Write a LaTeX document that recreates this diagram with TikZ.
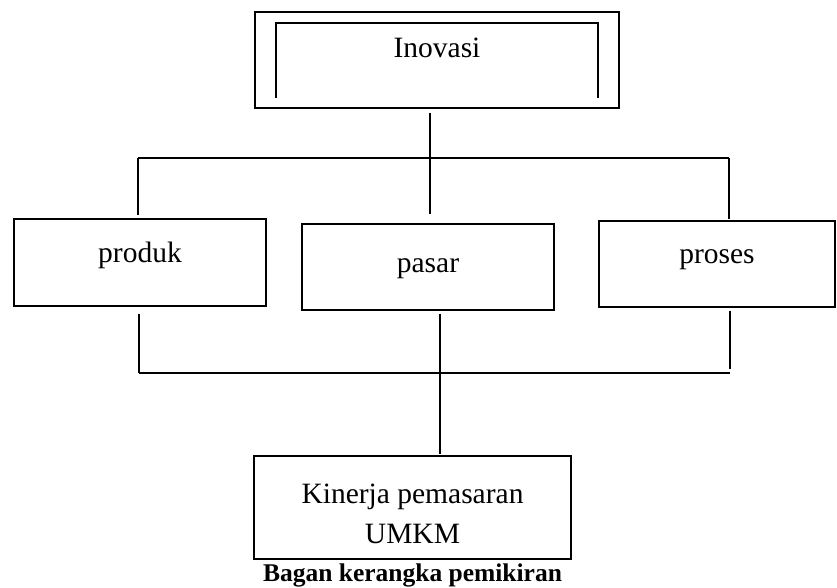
\documentclass[tikz,border=0pt]{standalone}
\usepackage{fontspec}
\setmainfont{Liberation Serif}
\begin{document}
\begin{tikzpicture}[x=1pt,y=-1pt,
  box/.style={draw,line width=1.3pt,inner sep=0pt,minimum width=#1},
  txt/.style={anchor=base,inner sep=0pt,font=\fontsize{29.5}{36}\selectfont},
  conn/.style={line width=1.2pt}]
\useasboundingbox (0,0) rectangle (837,588);
% Inovasi
\node[box=364pt,minimum height=96pt] (inov) at (437,60) {};
\draw[line width=1.3pt] (276,98) -- (276,23) -- (598,23) -- (598,98);
\node[txt] (tinov) at (437,58) {Inovasi};
% middle boxes
\node[box=252pt,minimum height=87pt] (produk) at (140,262.5) {};
\node[txt] (tprod) at (140,262) {produk};
\node[box=252pt,minimum height=86pt] (pasar) at (428,267) {};
\node[txt] (tpas) at (428,272) {pasar};
\node[box=236pt,minimum height=86pt] (proses) at (717,264) {};
\node[txt] (tpro) at (717,263) {proses};
% bottom box
\node[box=317pt,minimum height=103pt] (kin) at (412.5,507.5) {};
\node[txt] (tkin1) at (412.5,503) {Kinerja pemasaran};
\node[txt] (tkin2) at (412.5,543) {UMKM};
\node[anchor=base,inner sep=0pt,font=\fontsize{25.5}{30}\selectfont\bfseries] (title) at (412.5,581) {Bagan kerangka pemikiran};
% junctions
\coordinate (jtop) at (430,158);
\coordinate (jtl) at (138,158);
\coordinate (jtr) at (729,158);
\coordinate (jbl) at (139,373);
\coordinate (jbm) at (440,373);
\coordinate (jbr) at (730,373);
% connectors
\draw[conn] ([yshift=-4pt]inov.south -| jtop) -- (jtop);
\draw[conn] (jtl) -- (jtr);
\draw[conn] (jtl) -- ([yshift=3pt]produk.north -| jtl);
\draw[conn] (jtop) -- ([yshift=9pt]pasar.north -| jtop);
\draw[conn] (jtr) -- ([yshift=1pt]proses.north -| jtr);
\draw[conn] ([yshift=-7pt]produk.south -| jbl) -- (jbl);
\draw[conn] ([yshift=-3pt]pasar.south -| jbm) -- ([yshift=1pt]kin.north -| jbm);
\draw[conn] ([yshift=-3pt]proses.south -| jbr) -- ([yshift=4pt]jbr);
\draw[conn] (jbl) -- (jbr);
\end{tikzpicture}
\end{document}
